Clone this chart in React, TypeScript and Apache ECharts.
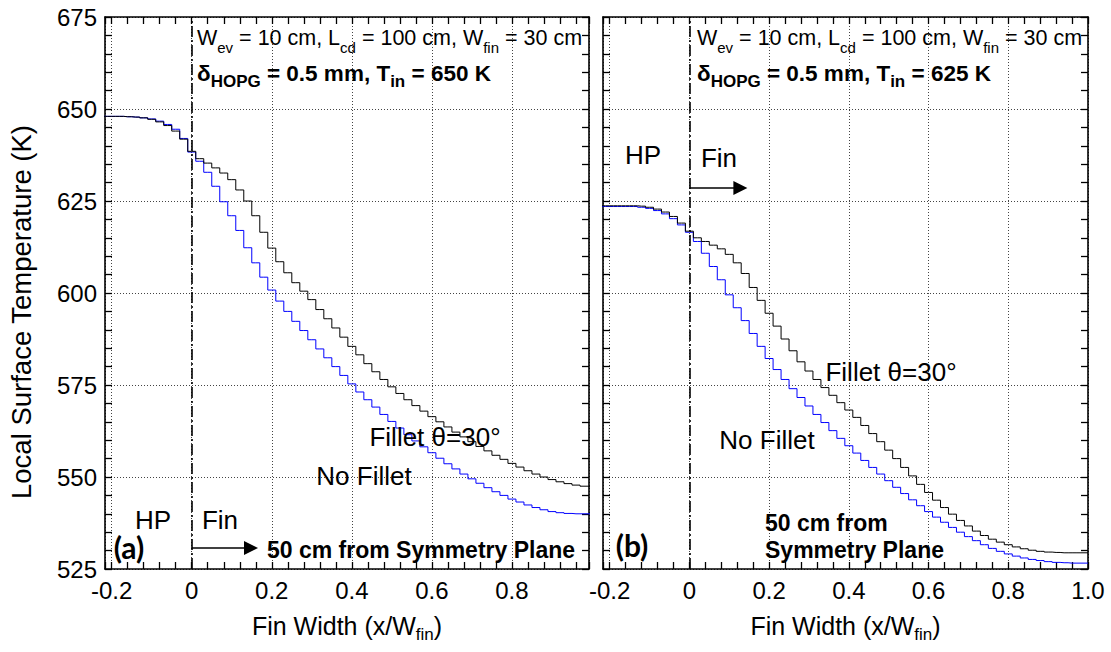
import React, { useEffect, useRef } from 'react';
import * as echarts from 'echarts';

const XS = [-0.22, -0.2, -0.18, -0.16, -0.14, -0.12, -0.1, -0.08, -0.06, -0.04, -0.02, 0.0,
  0.02, 0.04, 0.06, 0.08, 0.1, 0.12, 0.14, 0.16, 0.18, 0.2,
  0.22, 0.24, 0.26, 0.28, 0.3, 0.32, 0.34, 0.36, 0.38, 0.4,
  0.42, 0.44, 0.46, 0.48, 0.5, 0.52, 0.54, 0.56, 0.58, 0.6,
  0.62, 0.64, 0.66, 0.68, 0.7, 0.72, 0.74, 0.76, 0.78, 0.8,
  0.82, 0.84, 0.86, 0.88, 0.9, 0.92, 0.94, 0.96, 0.98, 1.0];

const LEFT_FILLET = [648.0, 648.0, 648.0, 647.9, 647.8, 647.6, 647.2, 646.5, 645.5, 644.0, 641.8, 638.5,
  636.5, 635.3, 634.0, 632.6, 630.8, 628.0, 625.0, 621.0, 616.5, 612.2,
  608.5, 605.5, 602.8, 600.5, 598.2, 595.5, 593.0, 590.5, 588.0, 585.5,
  583.2, 580.8, 578.6, 576.5, 574.5, 572.7, 571.0, 569.4, 567.9, 566.4,
  565.0, 563.6, 562.2, 560.9, 559.6, 558.3, 557.1, 555.9, 554.8, 553.7,
  552.7, 551.7, 550.8, 550.0, 549.3, 548.7, 548.2, 547.8, 547.5, 547.4];

const LEFT_NOFILLET = [648.0, 648.0, 648.0, 647.9, 647.8, 647.6, 647.3, 646.7, 645.8, 644.5, 642.0, 638.3,
  635.8, 632.8, 629.0, 624.8, 621.0, 617.0, 612.3, 608.2, 604.3, 600.8,
  597.8, 595.0, 592.3, 589.8, 587.3, 584.8, 582.4, 580.0, 577.6, 575.3,
  573.1, 571.0, 569.0, 567.0, 565.1, 563.3, 561.5, 559.8, 558.2, 556.6,
  555.1, 553.6, 552.2, 550.8, 549.5, 548.3, 547.1, 546.0, 545.0, 544.0,
  543.2, 542.4, 541.7, 541.1, 540.6, 540.3, 540.1, 540.0, 540.0, 540.0];

const RIGHT_FILLET = [623.7, 623.7, 623.7, 623.7, 623.7, 623.6, 623.3, 622.8, 622.0, 620.8, 619.0, 616.8,
  615.0, 614.0, 613.0, 612.0, 610.5, 608.2, 605.3, 601.5, 598.0, 594.5,
  591.0, 587.5, 584.3, 581.3, 578.8, 576.5, 574.3, 572.2, 570.2, 568.2,
  566.2, 564.0, 561.8, 559.6, 557.3, 555.0, 552.6, 550.3, 548.0, 545.8,
  543.7, 541.7, 539.9, 538.2, 536.7, 535.3, 534.1, 533.1, 532.3, 531.6,
  531.0, 530.5, 530.1, 529.8, 529.6, 529.5, 529.4, 529.4, 529.4, 529.4];

const RIGHT_NOFILLET = [623.5, 623.5, 623.5, 623.5, 623.5, 623.3, 623.0, 622.4, 621.5, 620.2, 618.5, 616.5,
  614.0, 610.8, 607.2, 603.6, 599.5, 596.0, 592.5, 589.0, 585.5, 582.2,
  579.2, 576.5, 574.0, 571.6, 569.3, 567.0, 564.8, 562.6, 560.5, 558.5,
  556.5, 554.5, 552.6, 550.8, 549.0, 547.2, 545.5, 543.8, 542.2, 540.6,
  539.1, 537.7, 536.3, 535.0, 533.8, 532.7, 531.6, 530.6, 529.8, 529.1,
  528.5, 528.0, 527.6, 527.3, 527.0, 526.8, 526.7, 526.6, 526.6, 526.6];

const X_MIN = -0.2167;
const X_MAX_LEFT = 0.9925;
const X_MAX_RIGHT = 1.0;
const Y_MIN = 525;
const Y_MAX = 675;
const Y_STEP = 25;
const ARROW_LEFT = { y: 530.7, x1: 0, x2: 0.148 };
const ARROW_RIGHT = { y: 628.5, x1: 0, x2: 0.128 };

const F = "'Liberation Sans', Arial, Helvetica, sans-serif";

const pairs = (ys: number[]) => XS.map((x, i) => [x, ys[i]]);

const tickStyle = { color: '#000', width: 1.3 };
const gridLine = { color: '#444', width: 1, type: [1, 2] as any };

function xAxesFor(gridIndex: number, max: number, showMax: boolean) {
  const common = {
    type: 'value', gridIndex, min: X_MIN, max, minInterval: 0.2, maxInterval: 0.2,
    axisLine: { show: true, onZero: false, lineStyle: { color: '#000', width: 1.6 } },
    axisTick: { show: true, inside: true, length: 7, lineStyle: tickStyle },
    minorTick: { show: true, splitNumber: 5, length: 7, lineStyle: tickStyle },
  };
  return [
    {
      ...common, position: 'bottom',
      splitLine: { show: true, lineStyle: gridLine },
      axisLabel: {
        show: true, fontSize: 24, fontFamily: F, color: '#000', margin: 9,
        showMinLabel: false, showMaxLabel: showMax,
        formatter: (v: number) => (Math.abs(v) < 1e-9 ? '0' : v.toFixed(1)),
      },
      name: 'Fin Width (x/W{s|fin})', nameLocation: 'middle', nameGap: 40,
      nameTextStyle: {
        fontSize: 25, fontFamily: F, color: '#000', lineHeight: 34,
        rich: { s: { fontSize: 17, fontFamily: F, color: '#000', verticalAlign: 'bottom', lineHeight: 10 } },
      },
    },
    {
      ...common, position: 'top',
      splitLine: { show: false }, axisLabel: { show: false },
    },
  ];
}

function yAxesFor(gridIndex: number, labels: boolean) {
  const common = {
    type: 'value', gridIndex, min: Y_MIN, max: Y_MAX, interval: Y_STEP,
    axisLine: { show: true, onZero: false, lineStyle: { color: '#000', width: 1.6 } },
    axisTick: { show: true, inside: true, length: 7, lineStyle: tickStyle },
    minorTick: { show: true, splitNumber: 5, length: 7, lineStyle: tickStyle },
  };
  const left: any = {
    ...common, position: 'left',
    splitLine: { show: true, lineStyle: gridLine },
    axisLabel: { show: labels, fontSize: 24, fontFamily: F, color: '#000', margin: 8 },
  };
  return [left, { ...common, position: 'right', splitLine: { show: false }, axisLabel: { show: false } }];
}

function vline() {
  return {
    silent: true, symbol: 'none', label: { show: false },
    lineStyle: { color: '#000', width: 1.6, type: [11, 3, 2, 3] },
    data: [{ xAxis: 0 }],
  };
}

function arrow(a: { y: number; x1: number; x2: number }) {
  return {
    silent: true, symbol: ['none', 'triangle'], symbolSize: 14, label: { show: false },
    lineStyle: { color: '#000', width: 1.5, type: 'solid' },
    data: [[{ coord: [a.x1, a.y] }, { coord: [a.x2, a.y] }]],
  };
}

function series(xi: number, yi: number, blue: number[], black: number[], arr: any) {
  return [
    {
      type: 'line', xAxisIndex: xi, yAxisIndex: yi, data: pairs(blue), step: 'middle',
      symbol: 'none', lineStyle: { color: '#0000ff', width: 1 }, z: 3, markLine: vline(),
    },
    {
      type: 'line', xAxisIndex: xi, yAxisIndex: yi, data: pairs(black), step: 'middle',
      symbol: 'none', lineStyle: { color: '#000', width: 1 }, z: 4, markLine: arrow(arr),
    },
  ];
}

const subRich = {
  s: { fontSize: 15, fontFamily: F, fill: '#000', verticalAlign: 'bottom', lineHeight: 10 },
  b: { fontSize: 17, fontFamily: F, fontWeight: 'bold', fill: '#000', verticalAlign: 'bottom', lineHeight: 10 },
};

function txt(x: number, y: number, text: string, o: any = {}) {
  return {
    type: 'text', x, y, silent: true, rotation: o.rotation ?? 0,
    style: {
      text, fontSize: o.fontSize ?? 26, fontFamily: o.fontFamily ?? F, fontWeight: o.fontWeight ?? 'normal',
      fill: '#000', align: o.align ?? 'center', verticalAlign: o.verticalAlign ?? 'middle',
      lineHeight: o.lineHeight, rich: o.rich,
    },
    z: 100,
  };
}

function panelTexts(x0: number, tin: string) {
  return [
    txt(x0, 21, 'W{s|ev} = 10 cm, L{s|cd} = 100 cm, W{s|fin} = 30 cm',
      { fontSize: 21.5, align: 'left', verticalAlign: 'top', lineHeight: 34, rich: subRich }),
    txt(x0, 56, `δ{b|HOPG} = 0.5 mm, T{b|in} = ${tin} K`,
      { fontSize: 22.5, fontWeight: 'bold', align: 'left', verticalAlign: 'top', lineHeight: 34, rich: subRich }),
  ];
}

const option: any = {
  animation: false,
  backgroundColor: '#fff',
  grid: [
    { left: 105, top: 17, width: 484, height: 552 },
    { left: 603, top: 17, width: 485, height: 552 },
  ],
  xAxis: [...xAxesFor(0, X_MAX_LEFT, false), ...xAxesFor(1, X_MAX_RIGHT, true)],
  yAxis: [...yAxesFor(0, true), ...yAxesFor(1, false)],
  series: [
    ...series(0, 0, LEFT_NOFILLET, LEFT_FILLET, ARROW_LEFT),
    ...series(2, 2, RIGHT_NOFILLET, RIGHT_FILLET, ARROW_RIGHT),
  ],
  graphic: [
    txt(21, 312, 'Local Surface Temperature (K)', { fontSize: 27.5, rotation: Math.PI / 2 }),
    ...panelTexts(197, '650'),
    ...panelTexts(697, '625'),
    txt(153, 520, 'HP'),
    txt(220, 520, 'Fin'),
    txt(435, 437, 'Fillet θ=30°'),
    txt(364, 476, 'No Fillet'),
    txt(421, 550, '50 cm from Symmetry Plane', { fontSize: 23, fontWeight: 'bold' }),
    txt(129, 547, '(a)', { fontSize: 30, fontWeight: 'bold', fontFamily: 'Lato, sans-serif' }),
    txt(643, 155, 'HP'),
    txt(719, 158, 'Fin'),
    txt(891, 372, 'Fillet θ=30°'),
    txt(767, 440, 'No Fillet'),
    txt(765, 523, '50 cm from', { fontSize: 23, fontWeight: 'bold', align: 'left' }),
    txt(765, 550, 'Symmetry Plane', { fontSize: 23, fontWeight: 'bold', align: 'left' }),
    txt(632, 545, '(b)', { fontSize: 30, fontWeight: 'bold', fontFamily: 'Lato, sans-serif' }),
  ],
};

export default function App() {
  const ref = useRef<HTMLDivElement>(null);
  useEffect(() => {
    const chart = echarts.init(ref.current as HTMLDivElement, null, { renderer: 'svg' });
    chart.setOption(option);
    return () => chart.dispose();
  }, []);
  return (
    <div
      ref={ref}
      style={{ position: 'fixed', left: 0, top: 0, width: 1111, height: 652, background: '#fff' }}
    />
  );
}
